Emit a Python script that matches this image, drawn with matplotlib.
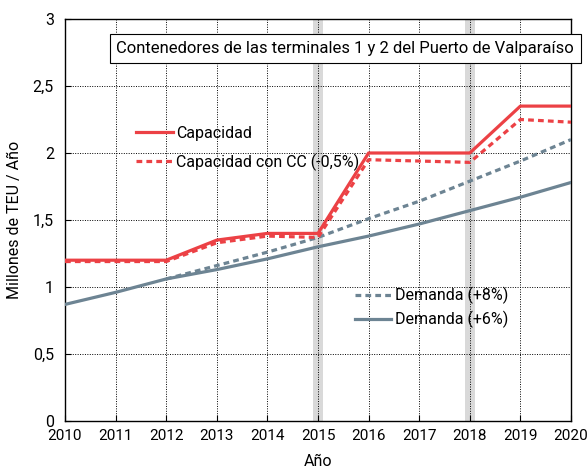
import matplotlib
matplotlib.use('Agg')
import matplotlib.pyplot as plt
from matplotlib.lines import Line2D

plt.rcParams.update({
    "font.family": ["Roboto", "DejaVu Sans"],
    "font.size": 11.5,
})

years = [2010, 2011, 2012, 2013, 2014, 2015, 2016, 2017, 2018, 2019, 2020]
capacidad = [1.2, 1.2, 1.2, 1.35, 1.4, 1.4, 2.0, 2.0, 2.0, 2.35, 2.35]
capacidad_cc = [1.19, 1.19, 1.19, 1.33, 1.38, 1.37, 1.95, 1.94, 1.93, 2.25, 2.23]
years_d8 = [2012, 2013, 2014, 2015, 2016, 2017, 2018, 2019, 2020]
demanda_8 = [1.06, 1.16, 1.26, 1.37, 1.51, 1.64, 1.79, 1.94, 2.10]
demanda_6 = [0.87, 0.96, 1.06, 1.13, 1.21, 1.30, 1.38, 1.47, 1.57, 1.67, 1.78]
event_years = [2015, 2018]

C_RED = "#ec4145"
C_GRAY = "#6d8493"
LW = 2.3
DASH = (0, (1.8, 1.3))

fig = plt.figure(figsize=(5.87, 4.72), dpi=100)
ax = fig.add_axes([65 / 587, 51 / 472, 506 / 587, 402 / 472])

for yr in event_years:
    ax.axvspan(yr - 0.1, yr + 0.1, color="#d9d9d9", zorder=0, lw=0)

ax.grid(True, color="black", linestyle=(0, (1, 1.5)), linewidth=0.7, zorder=1)

ax.plot(years, demanda_6, color=C_GRAY, lw=LW, zorder=3)
ax.plot(years_d8, demanda_8, color=C_GRAY, lw=LW, linestyle=DASH, zorder=3)
ax.plot(years, capacidad_cc, color=C_RED, lw=LW, linestyle=DASH, zorder=4)
ax.plot(years, capacidad, color=C_RED, lw=LW, zorder=5)

ax.set_xlim(2010, 2020)
ax.set_ylim(0, 3)
ax.set_xticks(years)
ax.set_yticks([0, 0.5, 1, 1.5, 2, 2.5, 3])
ax.set_yticklabels(["0", "0,5", "1", "1,5", "2", "2,5", "3"])
ax.tick_params(axis="both", direction="in", length=4, labelsize=11.5)
ax.tick_params(axis="x", pad=6, labelsize=11)
ax.tick_params(axis="y", pad=8)
ax.set_xlabel("Año", fontsize=11.5, labelpad=8)
ax.set_ylabel("Millones de TEU / Año", fontsize=11.5, labelpad=8)
for s in ax.spines.values():
    s.set_linewidth(1.0)

ax.text(0.554, 0.927, "Contenedores de las terminales 1 y 2 del Puerto de Valparaíso",
        transform=ax.transAxes, ha="center", va="center", fontsize=12, zorder=6,
        bbox=dict(boxstyle="square,pad=0.4", fc="white", ec="black", lw=0.8))

h1 = [Line2D([], [], color=C_RED, lw=LW),
      Line2D([], [], color=C_RED, lw=LW, linestyle=DASH)]
leg1 = ax.legend(h1, ["Capacidad", "Capacidad con CC (-0,5%)"], loc="upper left",
                 bbox_to_anchor=(0.128, 0.75), frameon=False, fontsize=11.5,
                 handlelength=2.3, handletextpad=0.2, labelspacing=0.8, borderaxespad=0)
ax.add_artist(leg1)
h2 = [Line2D([], [], color=C_GRAY, lw=LW, linestyle=DASH),
      Line2D([], [], color=C_GRAY, lw=LW)]
ax.legend(h2, ["Demanda (+8%)", "Demanda (+6%)"], loc="upper left",
          bbox_to_anchor=(0.56, 0.35), frameon=False, fontsize=11.5,
          handlelength=2.3, handletextpad=0.2, labelspacing=0.45, borderaxespad=0)

fig.savefig("out.png", dpi=100)
